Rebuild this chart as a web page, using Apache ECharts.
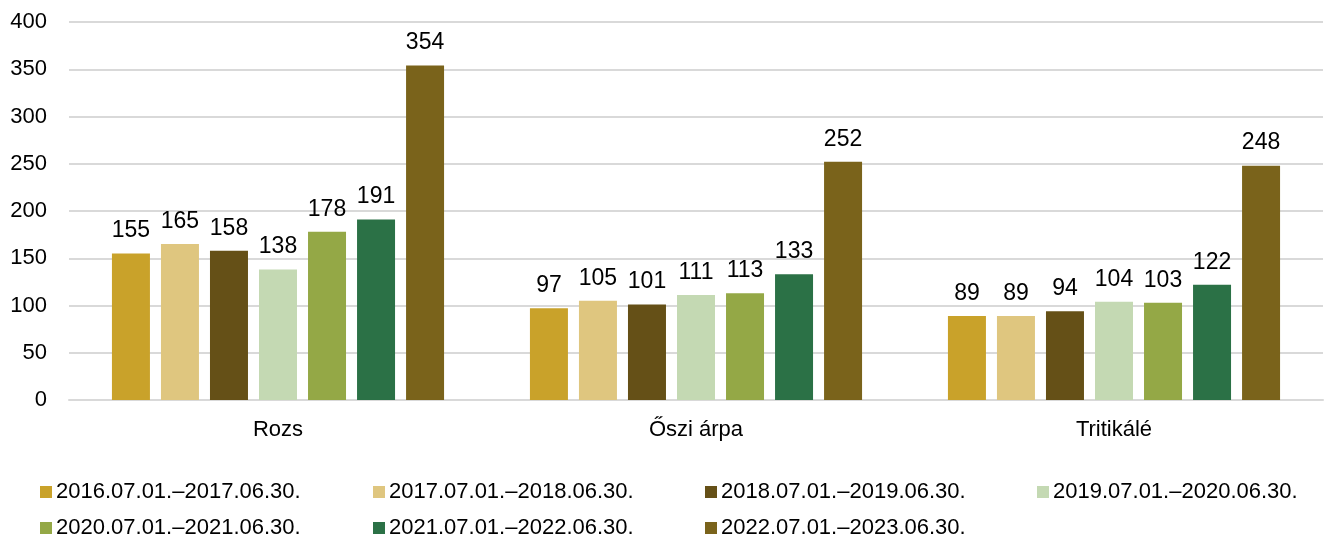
<!DOCTYPE html>
<html>
<head>
<meta charset="utf-8">
<script src="https://cdn.jsdelivr.net/npm/echarts@6/dist/echarts.min.js"></script>
<style>
	html, body { margin: 0; padding: 0; background: #fff; }
	#chart { width: 1336px; height: 539px; }
</style>
</head>
<body>
<div id="chart"></div>
<script>
const categories = ['Rozs', 'Őszi árpa', 'Tritikálé']
const periods = [
	'2016.07.01.–2017.06.30.',
	'2017.07.01.–2018.06.30.',
	'2018.07.01.–2019.06.30.',
	'2019.07.01.–2020.06.30.',
	'2020.07.01.–2021.06.30.',
	'2021.07.01.–2022.06.30.',
	'2022.07.01.–2023.06.30.'
]
const values2016 = [155, 97, 89]
const values2017 = [165, 105, 89]
const values2018 = [158, 101, 94]
const values2019 = [138, 111, 104]
const values2020 = [178, 113, 103]
const values2021 = [191, 133, 122]
const values2022 = [354, 252, 248]
const seriesValues = [values2016, values2017, values2018, values2019, values2020, values2021, values2022]

const colors = ['#C9A22A', '#DFC67F', '#655017', '#C4D9B3', '#94A846', '#2B7146', '#7A631B']

// legend slots, Excel-like columns
const legendSlots = [
	{ left: 40, top: 481 }, { left: 373, top: 481 }, { left: 705, top: 481 }, { left: 1037, top: 481 },
	{ left: 40, top: 517 }, { left: 373, top: 517 }, { left: 705, top: 517 }
]

const font = 'Liberation Sans, Arial, sans-serif'

const chart = echarts.init(document.getElementById('chart'))

const option = {
	animation: false,
	color: colors,
	grid: { left: 69, right: 13, top: 22, height: 378 },
	legend: periods.map((p, i) => ({
		data: [p],
		left: legendSlots[i].left,
		top: legendSlots[i].top,
		padding: 0,
		itemWidth: 12,
		itemHeight: 12,
		itemGap: 0,
		icon: 'rect',
		textStyle: { fontFamily: font, fontSize: 22, color: '#000', padding: [0, 0, 0, -1] }
	})),
	xAxis: {
		type: 'category',
		data: categories,
		axisLine: { lineStyle: { color: '#d9d9d9', width: 2 } },
		axisTick: { show: false },
		axisLabel: { fontFamily: font, fontSize: 22, color: '#000', margin: 19 }
	},
	yAxis: {
		type: 'value',
		min: 0,
		max: 400,
		interval: 50,
		axisLine: { show: false },
		axisTick: { show: false },
		splitLine: { lineStyle: { color: '#d9d9d9', width: 2 } },
		axisLabel: { fontFamily: font, fontSize: 22, color: '#000', margin: 22 }
	},
	series: periods.map((p, i) => ({
		name: p,
		type: 'bar',
		data: seriesValues[i],
		barWidth: 38,
		barGap: '29%',
		label: {
			show: true,
			position: 'top',
			distance: 11,
			fontFamily: font,
			fontSize: 23,
			color: '#000'
		}
	}))
}

chart.setOption(option)
</script>
</body>
</html>
